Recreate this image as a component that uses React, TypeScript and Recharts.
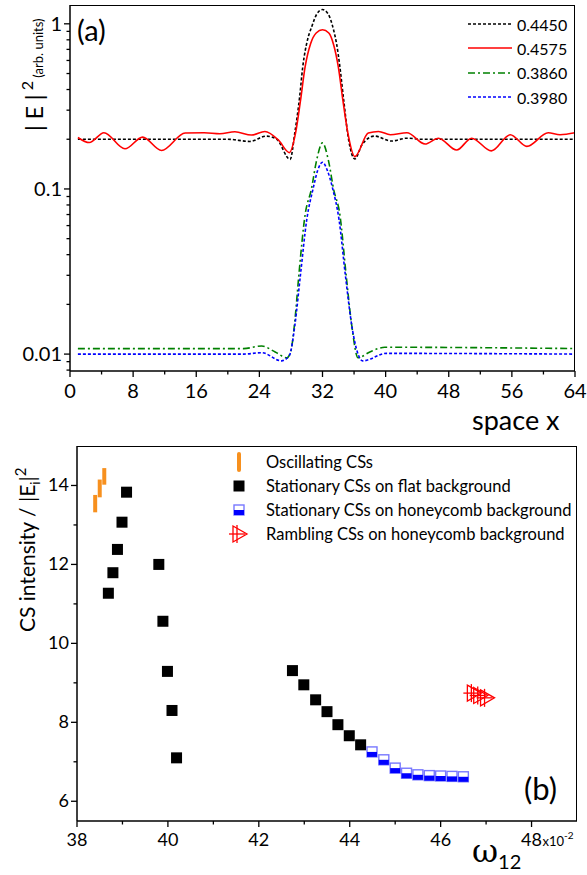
import React from 'react';
import { ErrorBar, Legend, Line, LineChart, Scatter, ScatterChart, XAxis, YAxis } from 'recharts';

const FONT = 'Lato, "Liberation Sans", sans-serif';

// ---- panel (a): |E|^2 profiles along x ----
const black4450 = [
  { x: 1, y: 0.2 }, { x: 10, y: 0.2 }, { x: 20, y: 0.2 }, { x: 22.8, y: 0.194 }, { x: 24.9, y: 0.209 },
  { x: 26.2, y: 0.2 }, { x: 27.9, y: 0.151 }, { x: 28.5, y: 0.22 }, { x: 29.1, y: 0.36 }, { x: 29.5, y: 0.55 },
  { x: 30.1, y: 0.8 }, { x: 30.6, y: 0.95 }, { x: 31.3, y: 1.15 }, { x: 32, y: 1.22 }, { x: 32.7, y: 1.15 },
  { x: 33.4, y: 0.92 }, { x: 33.8, y: 0.75 }, { x: 34.2, y: 0.55 }, { x: 34.7, y: 0.34 }, { x: 35.3, y: 0.2 },
  { x: 36.1, y: 0.152 }, { x: 37, y: 0.185 }, { x: 38.6, y: 0.209 }, { x: 40.7, y: 0.195 }, { x: 42.7, y: 0.203 },
  { x: 44.5, y: 0.2 }, { x: 54, y: 0.2 }, { x: 64, y: 0.2 },
];

const red4575 = [
  { x: 1, y: 0.205 }, { x: 2.45, y: 0.191 }, { x: 4.3, y: 0.219 }, { x: 6.97, y: 0.175 }, { x: 9.2, y: 0.206 },
  { x: 11.6, y: 0.171 }, { x: 14.6, y: 0.218 }, { x: 17, y: 0.219 }, { x: 19, y: 0.216 }, { x: 20.9, y: 0.222 },
  { x: 23, y: 0.212 }, { x: 24.7, y: 0.223 }, { x: 26.4, y: 0.198 }, { x: 27.8, y: 0.166 }, { x: 28.6, y: 0.22 },
  { x: 29.2, y: 0.34 }, { x: 29.8, y: 0.55 }, { x: 30.5, y: 0.76 }, { x: 31.2, y: 0.88 }, { x: 32, y: 0.92 },
  { x: 32.8, y: 0.88 }, { x: 33.4, y: 0.75 }, { x: 34, y: 0.55 }, { x: 34.6, y: 0.34 }, { x: 35.2, y: 0.22 },
  { x: 36.1, y: 0.157 }, { x: 37.8, y: 0.218 }, { x: 39.1, y: 0.223 }, { x: 40.6, y: 0.213 }, { x: 42.7, y: 0.219 },
  { x: 45, y: 0.187 }, { x: 46.7, y: 0.203 }, { x: 49, y: 0.172 }, { x: 50.9, y: 0.203 }, { x: 53.4, y: 0.17 },
  { x: 55.8, y: 0.213 }, { x: 57.9, y: 0.181 }, { x: 60.6, y: 0.219 }, { x: 62.1, y: 0.213 }, { x: 64, y: 0.219 },
];

const green3860 = [
  { x: 1, y: 0.0108 }, { x: 22, y: 0.0108 }, { x: 24.3, y: 0.0112 }, { x: 26, y: 0.0103 }, { x: 27.5, y: 0.0095 },
  { x: 28, y: 0.0105 }, { x: 28.5, y: 0.016 }, { x: 29, y: 0.03 }, { x: 29.8, y: 0.07 }, { x: 30.6, y: 0.1 },
  { x: 31.2, y: 0.145 }, { x: 32, y: 0.19 }, { x: 32.8, y: 0.145 }, { x: 33.4, y: 0.1 }, { x: 34.2, y: 0.07 },
  { x: 35, y: 0.03 }, { x: 35.7, y: 0.015 }, { x: 36.5, y: 0.0095 }, { x: 38, y: 0.0103 }, { x: 39.9, y: 0.011 },
  { x: 64, y: 0.0108 },
];

const blue3980 = [
  { x: 1, y: 0.01 }, { x: 22, y: 0.01 }, { x: 24.3, y: 0.0102 }, { x: 26.8, y: 0.0091 }, { x: 27.8, y: 0.0098 },
  { x: 28.5, y: 0.015 }, { x: 29.2, y: 0.03 }, { x: 30, y: 0.065 }, { x: 30.8, y: 0.1 }, { x: 31.4, y: 0.13 },
  { x: 32, y: 0.145 }, { x: 32.6, y: 0.13 }, { x: 33.3, y: 0.1 }, { x: 34.1, y: 0.065 }, { x: 34.9, y: 0.03 },
  { x: 35.8, y: 0.014 }, { x: 37.1, y: 0.0091 }, { x: 40.1, y: 0.0101 }, { x: 64, y: 0.01 },
];

const xTicksA = [0, 4, 8, 12, 16, 20, 24, 28, 32, 36, 40, 44, 48, 52, 56, 60, 64];
const xMajorA = [0, 8, 16, 24, 32, 40, 48, 56, 64];
const yTicksA = [0.008, 0.009, 0.01, 0.02, 0.03, 0.04, 0.05, 0.06, 0.07, 0.08, 0.09, 0.1, 0.2, 0.3, 0.4, 0.5, 0.6, 0.7, 0.8, 0.9, 1];
const yMajorA = [0.01, 0.1, 1];

const seriesA = [
  { name: '0.4450', data: black4450, color: '#000000', dash: '3 2' },
  { name: '0.4575', data: red4575, color: '#ff0000', dash: undefined },
  { name: '0.3860', data: green3860, color: '#008000', dash: '7 3 2 3' },
  { name: '0.3980', data: blue3980, color: '#0000ff', dash: '3 2' },
];

// ---- panel (b): CS intensity vs omega_12 (x 1e-2) ----
const oscillating = [
  { x: 38.4, lo: 13.32, hi: 13.76 },
  { x: 38.5, lo: 13.7, hi: 14.15 },
  { x: 38.6, lo: 14.02, hi: 14.44 },
];
const flatStationary = [
  { x: 38.69, y: 11.27 }, { x: 38.79, y: 11.79 }, { x: 38.89, y: 12.38 }, { x: 38.99, y: 13.07 }, { x: 39.09, y: 13.83 },
  { x: 39.8, y: 12.0 }, { x: 39.89, y: 10.56 }, { x: 39.99, y: 9.29 }, { x: 40.09, y: 8.3 }, { x: 40.19, y: 7.1 },
  { x: 42.74, y: 9.31 }, { x: 42.99, y: 8.95 }, { x: 43.25, y: 8.57 }, { x: 43.5, y: 8.27 }, { x: 43.74, y: 7.94 },
  { x: 43.99, y: 7.66 }, { x: 44.24, y: 7.43 },
];
const honeycombStationary = [
  { x: 44.49, y: 7.25 }, { x: 44.75, y: 7.05 }, { x: 45.0, y: 6.84 }, { x: 45.25, y: 6.71 }, { x: 45.5, y: 6.67 },
  { x: 45.75, y: 6.65 }, { x: 46.0, y: 6.64 }, { x: 46.25, y: 6.63 }, { x: 46.5, y: 6.62 },
];
const rambling = [
  { x: 46.72, y: 8.74 }, { x: 46.86, y: 8.68 }, { x: 47.01, y: 8.62 },
];

const xTicksB = [38, 39, 40, 41, 42, 43, 44, 45, 46, 47, 48];
const yTicksB = [6, 7, 8, 9, 10, 11, 12, 13, 14];

const ORANGE = '#f7901e';

const oscData = oscillating.map((d) => ({ x: d.x, y: (d.lo + d.hi) / 2, e: (d.hi - d.lo) / 2 }));

function XTickA(props: any) {
  const { x, y, payload } = props;
  const major = xMajorA.includes(payload.value);
  return (
    <g>
      <line x1={x} x2={x} y1={y} y2={y + (major ? 6 : 3.5)} stroke="#000" strokeWidth={1.3} />
      {major && (
        <text x={x} y={y + 27} textAnchor="middle" fontSize={20} fontFamily={FONT} fill="#000">
          {payload.value}
        </text>
      )}
    </g>
  );
}

function YTickA(props: any) {
  const { x, y, payload } = props;
  const major = yMajorA.includes(payload.value);
  return (
    <g>
      <line x1={x - (major ? 6 : 3.5)} x2={x} y1={y} y2={y} stroke="#000" strokeWidth={1.3} />
      {major && (
        <text x={x - 8} y={y + 7} textAnchor="end" fontSize={20} fontFamily={FONT} fill="#000">
          {String(payload.value)}
        </text>
      )}
    </g>
  );
}

function XTickB(props: any) {
  const { x, y, payload } = props;
  const major = payload.value % 2 === 0;
  return (
    <g>
      <line x1={x} x2={x} y1={y} y2={y + (major ? 6 : 3.5)} stroke="#000" strokeWidth={1.3} />
      {major && (
        <text x={x} y={y + 25} textAnchor="middle" fontSize={18} fontFamily={FONT} fill="#000">
          {payload.value}
        </text>
      )}
      {payload.value === 48 && (
        <text x={x + 11} y={y + 25} fontSize={13} fontFamily={FONT} fill="#000">
          x10<tspan dy={-7} fontSize={10}>-2</tspan>
        </text>
      )}
    </g>
  );
}

function YTickB(props: any) {
  const { x, y, payload } = props;
  const major = payload.value % 2 === 0;
  return (
    <g>
      <line x1={x - (major ? 6 : 3.5)} x2={x} y1={y} y2={y} stroke="#000" strokeWidth={1.3} />
      {major && (
        <text x={x - 8} y={y + 6} textAnchor="end" fontSize={18} fontFamily={FONT} fill="#000">
          {payload.value}
        </text>
      )}
    </g>
  );
}

function LegendA() {
  return (
    <div style={{ fontFamily: FONT, fontSize: 16, color: '#000' }}>
      {seriesA.map((s) => (
        <div key={s.name} style={{ display: 'flex', alignItems: 'center', height: 24.3 }}>
          <svg width={46} height={10}>
            <line x1={0} x2={44} y1={5} y2={5} stroke={s.color} strokeWidth={1.6} strokeDasharray={s.dash} />
          </svg>
          <span style={{ marginLeft: 3 }}>{s.name}</span>
        </div>
      ))}
    </div>
  );
}

const blackSquare = (p: any) => <rect x={p.cx - 5.5} y={p.cy - 5.5} width={11} height={11} fill="#000" />;

const halfSquare = (p: any) => (
  <g>
    <rect x={p.cx - 5} y={p.cy - 5} width={10} height={10} fill="#fff" stroke="#7878ff" strokeWidth={1.4} />
    <rect x={p.cx - 5} y={p.cy} width={10} height={5} fill="#0000ff" />
  </g>
);

const ramblingMark = (p: any) => {
  const { cx, cy } = p;
  return (
    <g stroke="#ff0000" strokeWidth={1.3} fill="none">
      <path d={`M${cx - 6},${cy - 8} L${cx + 8},${cy} L${cx - 6},${cy + 8} Z`} />
      <line x1={cx - 10} x2={cx + 6} y1={cy} y2={cy} />
      <line x1={cx - 2} x2={cx - 2} y1={cy - 9} y2={cy + 9} />
    </g>
  );
};

const legendB = [
  { name: 'Oscillating CSs', icon: <line x1={12} x2={12} y1={3} y2={19} stroke={ORANGE} strokeWidth={4} strokeLinecap="round" /> },
  { name: 'Stationary CSs on flat background', icon: blackSquare({ cx: 12, cy: 11 }) },
  { name: 'Stationary CSs on honeycomb background', icon: halfSquare({ cx: 12, cy: 11 }) },
  { name: 'Rambling CSs on honeycomb background', icon: ramblingMark({ cx: 12, cy: 11 }) },
];

function LegendB() {
  return (
    <div style={{ fontFamily: FONT, fontSize: 16.5, color: '#000' }}>
      {legendB.map((r) => (
        <div key={r.name} style={{ display: 'flex', alignItems: 'center', height: 24, whiteSpace: 'nowrap' }}>
          <svg width={24} height={22} style={{ overflow: 'visible' }}>{r.icon}</svg>
          <span style={{ marginLeft: 15 }}>{r.name}</span>
        </div>
      ))}
    </div>
  );
}

export default function App() {
  return (
    <div style={{ position: 'absolute', left: 0, top: 0, width: 587, height: 875, background: '#fff' }}>
      <div style={{ position: 'absolute', left: 0, top: 0 }}>
        <LineChart width={587} height={440} margin={{ top: 5, right: 12, left: 0, bottom: 0 }}>
          <XAxis
            dataKey="x"
            type="number"
            domain={[0, 64]}
            ticks={xTicksA}
            interval={0}
            height={69}
            tickSize={0}
            tickMargin={0}
            stroke="#000"
            strokeWidth={1.5}
            tick={<XTickA />}
            allowDataOverflow
            label={{
              content: () => (
                <text x={472} y={430} fontSize={27} fontFamily={FONT} fill="#000">
                  space x
                </text>
              ),
            }}
          />
          <YAxis
            dataKey="y"
            scale="log"
            domain={[0.0079, 1.3]}
            ticks={yTicksA}
            interval={0}
            width={70}
            tickSize={0}
            tickMargin={0}
            stroke="#000"
            strokeWidth={1.5}
            tick={<YTickA />}
            allowDataOverflow
            label={{
              content: () => (
                <text transform="rotate(-90 43 131)" x={43} y={131} fontFamily={FONT} fill="#000">
                  <tspan fontSize={23}>| E |</tspan>
                  <tspan fontSize={16} dy={-10}> 2</tspan>
                  <tspan fontSize={13} dy={10}> (arb. units)</tspan>
                </text>
              ),
            }}
          />
          {seriesA.map((s) => (
            <Line
              key={s.name}
              data={s.data}
              dataKey="y"
              name={s.name}
              type="monotone"
              stroke={s.color}
              strokeWidth={1.6}
              strokeDasharray={s.dash}
              dot={false}
              isAnimationActive={false}
            />
          ))}
          <Legend
            layout="vertical"
            align="center"
            verticalAlign="middle"
            wrapperStyle={{ top: 12, left: 468, width: 110 }}
            content={() => <LegendA />}
          />
        </LineChart>
        <div style={{ position: 'absolute', left: 70, top: 5, width: 505, height: 366, borderTop: '1.5px solid #000', borderRight: '1.5px solid #000', boxSizing: 'border-box', pointerEvents: 'none' }} />
        <div style={{ position: 'absolute', left: 77, top: 12, fontFamily: FONT, fontSize: 29, color: '#000' }}>(a)</div>
      </div>

      <div style={{ position: 'absolute', left: 0, top: 430 }}>
        <ScatterChart width={587} height={445} margin={{ top: 16, right: 10, left: 0, bottom: 0 }}>
          <XAxis
            dataKey="x"
            type="number"
            domain={[38, 49]}
            ticks={xTicksB}
            interval={0}
            height={54}
            tickSize={0}
            tickMargin={0}
            stroke="#000"
            strokeWidth={1.5}
            tick={<XTickB />}
            allowDataOverflow
            label={{
              content: () => (
                <text x={472} y={432} fontFamily={FONT} fill="#000">
                  <tspan fontSize={32} fontFamily='"DejaVu Serif", serif'>ω</tspan>
                  <tspan fontSize={20} dy={7}>12</tspan>
                </text>
              ),
            }}
          />
          <YAxis
            dataKey="y"
            type="number"
            domain={[5.5, 15]}
            ticks={yTicksB}
            interval={0}
            width={77}
            tickSize={0}
            tickMargin={0}
            stroke="#000"
            strokeWidth={1.5}
            tick={<YTickB />}
            allowDataOverflow
            label={{
              content: () => (
                <text transform="rotate(-90 35 202)" x={35} y={202} fontFamily={FONT} fontSize={21} fill="#000">
                  CS intensity / |E<tspan fontSize={13} dy={5}>i</tspan>
                  <tspan dy={-5}>|</tspan>
                  <tspan fontSize={15} dy={-9}>2</tspan>
                </text>
              ),
            }}
          />
          <Scatter name="Oscillating CSs" data={oscData} shape={() => <g />} isAnimationActive={false}>
            <ErrorBar dataKey="e" direction="y" width={0} stroke={ORANGE} strokeWidth={4} isAnimationActive={false} />
          </Scatter>
          <Scatter name="Stationary CSs on flat background" data={flatStationary} shape={blackSquare} isAnimationActive={false} />
          <Scatter name="Stationary CSs on honeycomb background" data={honeycombStationary} shape={halfSquare} isAnimationActive={false} />
          <Scatter name="Rambling CSs on honeycomb background" data={rambling} shape={ramblingMark} isAnimationActive={false} />
          <Legend
            layout="vertical"
            align="center"
            verticalAlign="middle"
            wrapperStyle={{ top: 20, left: 227, width: 360 }}
            content={() => <LegendB />}
          />
        </ScatterChart>
        <div style={{ position: 'absolute', left: 77, top: 16, width: 500, height: 375, borderTop: '1.5px solid #000', borderRight: '1.5px solid #000', boxSizing: 'border-box', pointerEvents: 'none' }} />
        <div style={{ position: 'absolute', left: 524, top: 339, fontFamily: FONT, fontSize: 31, color: '#000' }}>(b)</div>
      </div>
    </div>
  );
}
